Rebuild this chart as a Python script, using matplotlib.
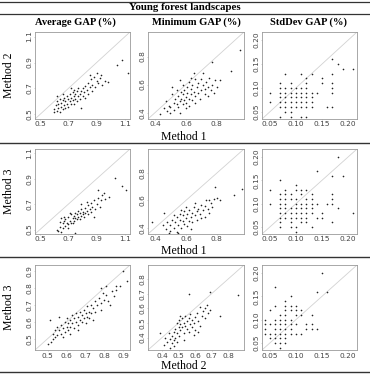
import matplotlib
matplotlib.use("Agg")
import matplotlib.pyplot as plt
from matplotlib.lines import Line2D

# ---- data (x = first method, y = second method) ----
avg_m1_m2 = [(0.60,0.52),(0.60,0.54),(0.61,0.57),(0.62,0.53),(0.62,0.60),(0.63,0.55),(0.63,0.58),
             (0.64,0.52),(0.64,0.62),(0.65,0.56),(0.65,0.59),(0.66,0.54),(0.66,0.61),(0.67,0.57),
             (0.67,0.63),(0.68,0.55),(0.68,0.60),(0.69,0.58),(0.69,0.64),(0.70,0.56),(0.70,0.62),
             (0.71,0.60),(0.71,0.66),(0.72,0.58),(0.72,0.63),(0.73,0.61),(0.73,0.67),(0.74,0.64),
             (0.74,0.69),(0.75,0.62),(0.75,0.66),(0.76,0.60),(0.76,0.68),(0.77,0.64),(0.77,0.70),
             (0.78,0.66),(0.78,0.62),(0.79,0.68),(0.79,0.55),(0.80,0.64),(0.80,0.70),(0.81,0.67),
             (0.82,0.72),(0.82,0.63),(0.83,0.69),(0.84,0.74),(0.84,0.66),(0.85,0.71),(0.86,0.77),
             (0.87,0.68),(0.87,0.73),(0.88,0.79),(0.89,0.71),(0.90,0.76),(0.90,0.82),(0.91,0.74),
             (0.92,0.78),(0.93,0.80),(0.94,0.73),(0.96,0.76),(0.98,0.75),(1.04,0.88),(1.08,0.92),
             (1.12,0.82),(0.85,0.80),(0.72,0.70),(0.66,0.66),(0.62,0.64),(0.74,0.58)]

min_m1_m2 = [(0.43,0.39),(0.48,0.41),(0.50,0.40),(0.49,0.45),(0.52,0.47),(0.51,0.58),(0.56,0.63),
             (0.63,0.65),(0.65,0.68),(0.71,0.68),(0.75,0.65),(0.77,0.76),(0.79,0.63),(0.82,0.63),
             (0.89,0.70),(0.95,0.85),(0.74,0.52),(0.46,0.43),(0.50,0.44),(0.52,0.42),(0.53,0.50),
             (0.54,0.46),(0.55,0.52),(0.55,0.44),(0.56,0.48),(0.57,0.55),(0.57,0.50),(0.58,0.46),
             (0.58,0.53),(0.59,0.49),(0.59,0.56),(0.60,0.51),(0.60,0.47),(0.61,0.54),(0.61,0.58),
             (0.62,0.50),(0.62,0.45),(0.63,0.53),(0.63,0.57),(0.64,0.49),(0.64,0.60),(0.65,0.55),
             (0.66,0.52),(0.66,0.47),(0.67,0.58),(0.68,0.54),(0.68,0.61),(0.69,0.50),(0.70,0.56),
             (0.71,0.60),(0.72,0.53),(0.72,0.57),(0.73,0.62),(0.74,0.58),(0.76,0.56),(0.77,0.60),
             (0.78,0.54),(0.80,0.58),(0.54,0.56),(0.56,0.40),(0.60,0.43),(0.51,0.53),(0.47,0.48),
             (0.58,0.60),(0.62,0.62),(0.66,0.64),(0.70,0.64)]

std_m1_m2 = [(0.08,0.13),(0.11,0.13),(0.13,0.13),(0.12,0.12),(0.15,0.12),
             (0.07,0.11),(0.09,0.11),(0.12,0.11),(0.15,0.11),(0.17,0.11),
             (0.07,0.10),(0.08,0.10),(0.09,0.10),(0.10,0.10),(0.11,0.10),(0.12,0.10),(0.17,0.10),
             (0.05,0.09),(0.07,0.09),(0.08,0.09),(0.09,0.09),(0.10,0.09),(0.11,0.09),(0.12,0.09),
             (0.13,0.09),(0.14,0.09),(0.17,0.09),
             (0.07,0.08),(0.08,0.08),(0.09,0.08),(0.10,0.08),(0.11,0.08),(0.12,0.08),(0.13,0.08),
             (0.05,0.07),(0.07,0.07),(0.08,0.07),(0.09,0.07),(0.10,0.07),(0.11,0.07),(0.12,0.07),
             (0.13,0.07),
             (0.07,0.06),(0.08,0.06),(0.09,0.06),(0.10,0.06),(0.11,0.06),(0.12,0.06),(0.13,0.06),
             (0.16,0.06),(0.17,0.06),
             (0.08,0.05),(0.09,0.05),(0.07,0.04),(0.09,0.04),(0.11,0.04),(0.12,0.04),
             (0.17,0.16),(0.18,0.15),(0.19,0.14),(0.21,0.14),(0.17,0.13)]

avg_m1_m3 = [(1.03,0.91),(1.08,0.84),(1.11,0.81),(0.99,0.76),(0.95,0.79),(0.91,0.81),(0.79,0.70),
             (0.65,0.59),(0.63,0.46),(0.64,0.44),(0.75,0.47),(0.62,0.50),(0.63,0.49),(0.64,0.52),
             (0.65,0.48),(0.66,0.55),(0.66,0.51),(0.67,0.57),(0.68,0.53),(0.68,0.58),(0.69,0.55),
             (0.70,0.60),(0.70,0.54),(0.71,0.57),(0.72,0.62),(0.72,0.55),(0.73,0.59),(0.74,0.61),
             (0.74,0.57),(0.75,0.63),(0.75,0.59),(0.76,0.62),(0.77,0.60),(0.77,0.65),(0.78,0.63),
             (0.78,0.58),(0.79,0.66),(0.80,0.62),(0.80,0.64),(0.81,0.60),(0.82,0.67),(0.82,0.63),
             (0.83,0.65),(0.84,0.69),(0.84,0.62),(0.85,0.66),(0.86,0.71),(0.86,0.64),(0.87,0.68),
             (0.88,0.73),(0.88,0.60),(0.89,0.66),(0.90,0.70),(0.91,0.75),(0.92,0.68),(0.93,0.73),
             (0.94,0.77),(0.96,0.74),(0.67,0.60),(0.70,0.51),(0.73,0.55),(0.76,0.58),(0.64,0.56),
             (0.71,0.63),(0.79,0.61),(0.83,0.72)]

min_m1_m3 = [(0.96,0.68),(0.91,0.64),(0.79,0.70),(0.80,0.62),(0.82,0.60),(0.46,0.51),(0.38,0.44),
             (0.53,0.34),(0.49,0.36),(0.58,0.34),(0.45,0.42),(0.47,0.39),(0.48,0.44),(0.50,0.38),
             (0.50,0.42),(0.51,0.46),(0.52,0.40),(0.53,0.44),(0.54,0.37),(0.54,0.48),(0.55,0.42),
             (0.56,0.46),(0.56,0.50),(0.57,0.40),(0.57,0.53),(0.58,0.45),(0.58,0.49),(0.59,0.43),
             (0.59,0.52),(0.60,0.47),(0.60,0.55),(0.61,0.50),(0.61,0.41),(0.62,0.45),(0.62,0.53),
             (0.63,0.48),(0.64,0.51),(0.64,0.44),(0.65,0.55),(0.66,0.49),(0.67,0.52),(0.67,0.46),
             (0.68,0.54),(0.69,0.50),(0.70,0.57),(0.71,0.53),(0.72,0.48),(0.72,0.56),(0.73,0.60),
             (0.74,0.54),(0.75,0.51),(0.76,0.58),(0.77,0.55),(0.78,0.61),(0.75,0.60),(0.70,0.47),
             (0.63,0.39),(0.55,0.36),(0.52,0.49),(0.66,0.58)]

std_m1_m3 = [(0.18,0.20),(0.14,0.17),(0.07,0.15),(0.17,0.16),(0.19,0.16),(0.05,0.13),(0.05,0.10),
             (0.21,0.08),(0.10,0.14),
             (0.08,0.13),(0.10,0.13),(0.11,0.13),(0.12,0.13),
             (0.07,0.12),(0.08,0.12),(0.09,0.12),(0.11,0.12),(0.13,0.12),(0.17,0.12),
             (0.07,0.11),(0.08,0.11),(0.09,0.11),(0.10,0.11),(0.12,0.11),(0.13,0.11),(0.17,0.11),
             (0.07,0.10),(0.08,0.10),(0.10,0.10),(0.11,0.10),(0.12,0.10),(0.13,0.10),(0.14,0.10),
             (0.16,0.10),(0.17,0.10),
             (0.07,0.09),(0.08,0.09),(0.09,0.09),(0.10,0.09),(0.11,0.09),(0.12,0.09),(0.13,0.09),
             (0.18,0.09),
             (0.07,0.08),(0.08,0.08),(0.09,0.08),(0.10,0.08),(0.11,0.08),(0.12,0.08),(0.13,0.08),
             (0.15,0.08),
             (0.07,0.07),(0.08,0.07),(0.09,0.07),(0.10,0.07),(0.11,0.07),(0.12,0.07),(0.14,0.07),
             (0.15,0.07),
             (0.07,0.06),(0.09,0.06),(0.11,0.06),(0.12,0.06),(0.17,0.06),
             (0.07,0.05),(0.09,0.05),(0.10,0.05),(0.13,0.05),(0.10,0.04)]

avg_m2_m3 = [(0.90,0.90),(0.92,0.84),(0.83,0.70),(0.88,0.81),(0.86,0.81),(0.81,0.81),(0.78,0.80),
             (0.50,0.47),(0.52,0.48),(0.51,0.61),(0.56,0.63),(0.53,0.50),(0.53,0.53),(0.54,0.55),
             (0.54,0.51),(0.55,0.57),(0.55,0.52),(0.56,0.55),(0.57,0.53),(0.57,0.58),(0.58,0.56),
             (0.59,0.54),(0.59,0.60),(0.60,0.57),(0.60,0.62),(0.61,0.59),(0.61,0.55),(0.62,0.61),
             (0.62,0.57),(0.63,0.64),(0.63,0.59),(0.64,0.62),(0.64,0.56),(0.65,0.65),(0.65,0.60),
             (0.66,0.63),(0.66,0.58),(0.67,0.66),(0.67,0.61),(0.68,0.64),(0.68,0.60),(0.69,0.67),
             (0.69,0.62),(0.70,0.65),(0.71,0.63),(0.71,0.69),(0.72,0.66),(0.72,0.62),(0.73,0.70),
             (0.73,0.65),(0.74,0.68),(0.75,0.72),(0.75,0.66),(0.76,0.70),(0.77,0.74),(0.78,0.71),
             (0.79,0.77),(0.80,0.73),(0.81,0.76),(0.82,0.72),(0.84,0.78),(0.85,0.75),(0.86,0.79),
             (0.58,0.51),(0.62,0.53),(0.66,0.55),(0.70,0.59),(0.74,0.61),(0.78,0.67)]

min_m2_m3 = [(0.86,0.69),(0.56,0.70),(0.69,0.71),(0.75,0.55),(0.39,0.43),(0.41,0.35),(0.47,0.34),
             (0.42,0.40),(0.43,0.37),(0.44,0.43),(0.45,0.39),(0.46,0.41),(0.46,0.36),(0.47,0.44),
             (0.47,0.38),(0.48,0.46),(0.48,0.40),(0.49,0.50),(0.49,0.43),(0.50,0.47),(0.50,0.52),
             (0.50,0.41),(0.51,0.49),(0.51,0.45),(0.52,0.53),(0.52,0.47),(0.53,0.50),(0.53,0.43),
             (0.54,0.55),(0.54,0.48),(0.55,0.51),(0.55,0.46),(0.56,0.53),(0.56,0.44),(0.57,0.49),
             (0.57,0.56),(0.58,0.52),(0.58,0.47),(0.59,0.50),(0.60,0.54),(0.60,0.45),(0.61,0.57),
             (0.62,0.51),(0.63,0.61),(0.63,0.48),(0.64,0.55),(0.65,0.58),(0.66,0.60),(0.66,0.53),
             (0.67,0.62),(0.68,0.57),(0.69,0.59),(0.53,0.38),(0.45,0.33),(0.49,0.37),(0.59,0.42),
             (0.62,0.44),(0.51,0.55)]

std_m2_m3 = [(0.15,0.20),(0.06,0.17),(0.14,0.16),(0.16,0.16),(0.09,0.15),
             (0.08,0.14),
             (0.06,0.13),(0.08,0.13),(0.09,0.13),(0.10,0.13),
             (0.05,0.12),(0.08,0.12),(0.09,0.12),(0.10,0.12),(0.11,0.12),
             (0.07,0.11),(0.08,0.11),(0.10,0.11),(0.11,0.11),(0.13,0.11),
             (0.04,0.10),(0.06,0.10),(0.07,0.10),(0.08,0.10),(0.09,0.10),
             (0.04,0.09),(0.05,0.09),(0.06,0.09),(0.07,0.09),(0.08,0.09),(0.09,0.09),(0.10,0.09),
             (0.12,0.09),(0.13,0.09),
             (0.04,0.08),(0.06,0.08),(0.07,0.08),(0.08,0.08),(0.09,0.08),(0.12,0.08),(0.13,0.08),
             (0.14,0.08),
             (0.04,0.07),(0.05,0.07),(0.06,0.07),(0.07,0.07),(0.08,0.07),(0.09,0.07),(0.10,0.07),
             (0.11,0.07),
             (0.05,0.06),(0.06,0.06),(0.07,0.06),(0.08,0.06),
             (0.06,0.05),(0.07,0.05),(0.08,0.05),(0.07,0.04)]

title = "Young forest landscapes"
col_titles = ["Average GAP (%)", "Minimum GAP (%)", "StdDev GAP (%)"]
row_ylabels = ["Method 2", "Method 3", "Method 3"]
row_xlabels = ["Method 1", "Method 1", "Method 2"]

panels = [[avg_m1_m2, min_m1_m2, std_m1_m2],
          [avg_m1_m3, min_m1_m3, std_m1_m3],
          [avg_m2_m3, min_m2_m3, std_m2_m3]]

limits = [[(0.465, 1.135), (0.355, 0.975), (0.035, 0.217)],
          [(0.465, 1.135), (0.355, 0.975), (0.035, 0.217)],
          [(0.433, 0.935), (0.315, 0.895), (0.035, 0.217)]]

ticks = [[[0.5, 0.7, 0.9, 1.1], [0.4, 0.6, 0.8], [0.05, 0.10, 0.15, 0.20]],
         [[0.5, 0.7, 0.9, 1.1], [0.4, 0.6, 0.8], [0.05, 0.10, 0.15, 0.20]],
         [[0.5, 0.6, 0.7, 0.8, 0.9], [0.4, 0.5, 0.6, 0.7, 0.8], [0.05, 0.10, 0.15, 0.20]]]

# ---- layout in pixels ----
W, H = 370, 374
col_px = [(35, 130), (148, 244), (262, 357)]
row_px = [(32, 119), (149, 234), (265, 350)]
xlabel_y = [137, 251, 366]
serif = "Liberation Serif"

fig = plt.figure(figsize=(W / 100, H / 100), dpi=100)
fig.patch.set_facecolor("white")


def fx(px):
    return px / W


def fy(py):
    return 1 - py / H


# table rules
for yy, lw in [(2, 0.9), (14, 0.9), (143, 1.0), (257, 1.0), (372, 1.0)]:
    fig.add_artist(Line2D([0, 1], [fy(yy), fy(yy)], color="#333333", lw=lw))

fig.text(0.5, fy(8), title, ha="center", va="center", family=serif,
         fontweight="bold", fontsize=7.8)
for (l, r), t in zip([(35, 115), (152, 240), (265, 352)], col_titles):
    fig.text(fx((l + r) / 2), fy(22), t, ha="center", va="center",
             family=serif, fontweight="bold", fontsize=7.6)

for i in range(3):
    top, bot = row_px[i]
    for j in range(3):
        left, right = col_px[j]
        ax = fig.add_axes([fx(left), fy(bot), fx(right - left), (bot - top) / H])
        lo, hi = limits[i][j]
        ax.plot([lo, hi], [lo, hi], color="#d2d2d2", lw=0.6, zorder=1)
        xs = [p[0] for p in panels[i][j]]
        ys = [p[1] for p in panels[i][j]]
        ax.scatter(xs, ys, s=1.4, color="#222222", linewidths=0, zorder=2)
        ax.set_xlim(lo, hi)
        ax.set_ylim(lo, hi)
        tk = ticks[i][j]
        lab = ["%.2f" % t if j == 2 else "%.1f" % t for t in tk]
        ax.set_xticks(tk)
        ax.set_xticklabels(lab)
        ax.set_yticks(tk)
        ax.set_yticklabels(lab, rotation=90, va="center")
        ax.tick_params(length=1.0, width=0.4, color="#aaaaaa", labelsize=5.3,
                       labelcolor="#444444", pad=0.8)
        for s in ax.spines.values():
            s.set_color("#9a9a9a")
            s.set_linewidth(0.6)
    fig.text(fx(9), fy((top + bot) / 2), row_ylabels[i], rotation=90,
             ha="center", va="center", family=serif, fontsize=8.5)
    fig.text(fx(184), fy(xlabel_y[i]), row_xlabels[i], ha="center", va="center",
             family=serif, fontsize=8.5)

fig.savefig("out.png", dpi=100)
